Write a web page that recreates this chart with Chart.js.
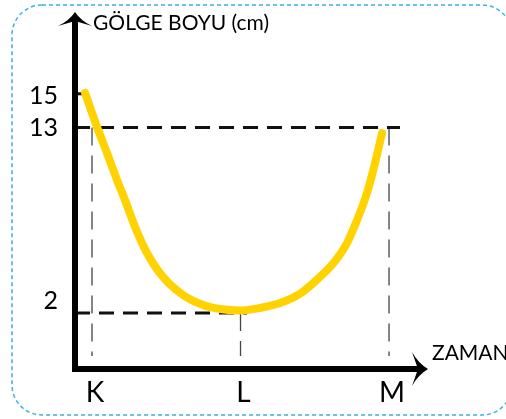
<!DOCTYPE html>
<html>
<head>
<meta charset="utf-8">
<title>Gölge boyu</title>
<script src="https://cdn.jsdelivr.net/npm/chart.js@4/dist/chart.umd.min.js"></script>
<style>
  html, body { margin: 0; padding: 0; background: #fff; }
  #chart { display: block; }
</style>
</head>
<body>
<canvas id="chart" width="506" height="419"></canvas>
<script>
// ─── Data ─────────────────────────────────────────────────────────────
// time axis: K = 0, L = 10, M = 20 (arbitrary units)
const xCategories     = ["K", "L", "M"];
const xCategoryValues = [0, 10, 20];

const yTickLabels = ["15", "13", "2"];
const yTickValues = [15, 13, 2];

// shadow length curve
const curveX = [-0.47, 0.34, 1.01, 1.68, 2.22, 2.90, 3.70, 4.78, 6.13, 7.47, 8.62,
                9.97, 11.31, 12.66, 14.01, 15.15, 16.23, 17.17, 17.85, 18.52, 19.06, 19.53];
const curveY = [15.05, 13.03, 11.49, 9.89, 8.70, 7.10, 5.56, 4.14, 3.07, 2.48, 2.24,
                2.15, 2.30, 2.59, 3.15, 3.98, 4.93, 6.15, 7.51, 9.12, 10.89, 12.67];

// dashed helper lines
const guideLevels = [13, 2];        // horizontal, from the y axis
const guideEnds   = [20.74, 10.44]; // x where each one stops
const dropX    = [0, 10, 20];       // vertical, under K, L, M
const dropFrom = [13, 2, 13];
const dropTo   = -0.55;

const tick15End = -0.27;            // short solid mark at 15

const xRange = [-1.145, 22.49];
const yRange = [-1.32, 19.79];

const AXIS_TITLE_Y = "GÖLGE BOYU (cm)";
const AXIS_TITLE_X = "ZAMAN";

// ─── Datasets ─────────────────────────────────────────────────────────
const curveData = curveX.map((x, i) => ({ x, y: curveY[i] }));

const datasets = [
  {
    data: curveData,
    borderColor: "#ffd200",
    borderWidth: 8,
    cubicInterpolationMode: "monotone",
    borderCapStyle: "round",
    pointRadius: 0,
  },
];

guideLevels.forEach((lvl, i) => {
  datasets.push({
    data: [{ x: xRange[0], y: lvl }, { x: guideEnds[i], y: lvl }],
    borderColor: "#111",
    borderWidth: 3,
    borderDash: [15, 9],
    pointRadius: 0,
  });
});

dropX.forEach((x, i) => {
  datasets.push({
    data: [{ x, y: dropFrom[i] }, { x, y: dropTo }],
    borderColor: "#444",
    borderWidth: 1.3,
    borderDash: [18, 10],
    pointRadius: 0,
  });
});

datasets.push({
  data: [{ x: xRange[0], y: 15 }, { x: tick15End, y: 15 }],
  borderColor: "#111",
  borderWidth: 3,
  pointRadius: 0,
});

// ─── Drawing helpers ──────────────────────────────────────────────────
const FONT = "Lato, 'Open Sans', sans-serif";

const sketchPlugin = {
  id: "sketch",
  beforeDraw(chart) {
    const ctx = chart.ctx;
    ctx.save();
    ctx.fillStyle = "#fff";
    ctx.fillRect(0, 0, chart.width, chart.height);
    // dashed rounded frame
    ctx.strokeStyle = "#3ab0e6";
    ctx.lineWidth = 1.5;
    ctx.setLineDash([4, 3]);
    ctx.beginPath();
    ctx.roundRect(12, 5, 500, 410, 30);
    ctx.stroke();
    ctx.restore();
  },
  afterDraw(chart) {
    const { ctx, chartArea: a, scales: { x, y } } = chart;
    ctx.save();
    ctx.fillStyle = "#000";
    ctx.strokeStyle = "#000";

    // axes
    ctx.lineWidth = 6;
    ctx.lineCap = "butt";
    ctx.beginPath();
    ctx.moveTo(a.left, a.bottom + 3);
    ctx.lineTo(a.left, a.top + 8);
    ctx.moveTo(a.left - 3, a.bottom);
    ctx.lineTo(a.right - 6, a.bottom);
    ctx.stroke();

    // arrow heads
    ctx.beginPath();
    ctx.moveTo(a.left, a.top - 1);
    ctx.quadraticCurveTo(a.left - 6, a.top + 8, a.left - 17, a.top + 13);
    ctx.lineTo(a.left, a.top + 8);
    ctx.lineTo(a.left + 17, a.top + 13);
    ctx.quadraticCurveTo(a.left + 6, a.top + 8, a.left, a.top - 1);
    ctx.fill();

    ctx.beginPath();
    ctx.moveTo(a.right + 2, a.bottom);
    ctx.quadraticCurveTo(a.right - 8, a.bottom - 6, a.right - 14, a.bottom - 17);
    ctx.lineTo(a.right - 8, a.bottom);
    ctx.lineTo(a.right - 14, a.bottom + 17);
    ctx.quadraticCurveTo(a.right - 8, a.bottom + 6, a.right + 2, a.bottom);
    ctx.fill();

    // y tick labels
    ctx.font = `25px ${FONT}`;
    ctx.textAlign = "right";
    ctx.textBaseline = "middle";
    yTickLabels.forEach((t, i) => {
      const py = y.getPixelForValue(yTickValues[i]);
      const off = yTickValues[i] === 2 ? -12 : (yTickValues[i] === 15 ? 2 : 0);
      ctx.fillText(t, a.left - 17, py + off);
    });

    // x category labels
    ctx.font = `28px ${FONT}`;
    ctx.textAlign = "center";
    xCategories.forEach((c, i) => {
      ctx.fillText(c, x.getPixelForValue(xCategoryValues[i]) + 3, a.bottom + 24);
    });

    // axis titles
    ctx.font = `21px ${FONT}`;
    ctx.textAlign = "left";
    ctx.fillText(AXIS_TITLE_Y, a.left + 18, a.top + 10);
    ctx.fillText(AXIS_TITLE_X, a.right + 6, a.bottom - 16);

    ctx.restore();
  },
};

// ─── Chart ────────────────────────────────────────────────────────────
new Chart(document.getElementById("chart").getContext("2d"), {
  type: "scatter",
  data: { datasets: datasets.map((d) => ({ ...d, showLine: true })) },
  options: {
    responsive: false,
    devicePixelRatio: 1,
    animation: false,
    layout: { padding: { left: 75, right: 80, top: 13, bottom: 50 } },
    plugins: { legend: { display: false }, tooltip: { enabled: false } },
    scales: {
      x: { type: "linear", display: false, min: xRange[0], max: xRange[1] },
      y: { type: "linear", display: false, min: yRange[0], max: yRange[1] },
    },
  },
  plugins: [sketchPlugin],
});
</script>
</body>
</html>
